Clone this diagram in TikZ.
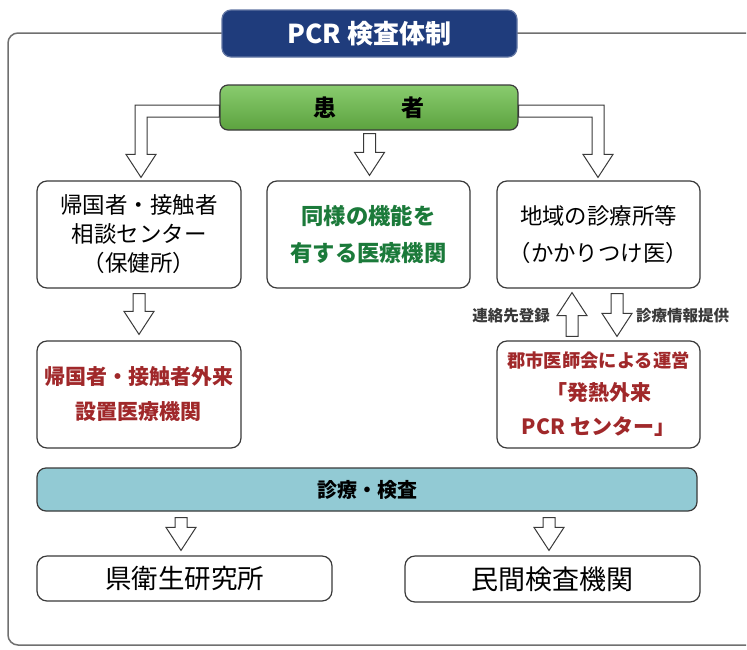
\documentclass[tikz,border=0pt]{standalone}
\usepackage{fontspec}
\newfontfamily\jp{Noto Sans CJK JP}
\usetikzlibrary{calc}
\pgfdeclarelayer{bg}
\pgfsetlayers{bg,main}
\definecolor{navy}{HTML}{1F3C7C}
\definecolor{kgreen}{HTML}{6CBF4A}
\definecolor{kteal}{HTML}{92CAD4}
\definecolor{tgreen}{HTML}{1B7A3A}
\definecolor{tred}{HTML}{A0282A}
\definecolor{edge}{HTML}{3A3A3A}
\definecolor{frame}{HTML}{707070}
\tikzset{
  box/.style={draw=edge, line width=1.2pt, rounded corners=10pt, fill=white, minimum width=#1, minimum height=107pt, inner sep=0pt, align=center},
  box/.default=204pt,
  wide/.style={draw=edge, line width=1.2pt, rounded corners=10pt, fill=white, minimum width=295pt, minimum height=45pt, inner sep=0pt, align=center},
  blockarr/.style={draw=edge, line width=1pt, fill=white, line join=miter},
  lbl/.style={inner sep=0pt, font=\jp\bfseries\fontsize{15.5}{18}\selectfont, text=edge},
}
\newcommand\arrdown[2]{\path[blockarr] let \p1=(#1), \p2=(#2) in
  (\x2-6pt,\y1) -- (\x2-6pt,\y2+23pt) -- (\x2-15pt,\y2+23pt) -- (\x2,\y2) -- (\x2+15pt,\y2+23pt) -- (\x2+6pt,\y2+23pt) -- (\x2+6pt,\y1) -- cycle;}
\newcommand\arrup[2]{\path[blockarr] let \p1=(#1), \p2=(#2) in
  (\x2-6pt,\y1) -- (\x2-6pt,\y2-23pt) -- (\x2-15pt,\y2-23pt) -- (\x2,\y2) -- (\x2+15pt,\y2-23pt) -- (\x2+6pt,\y2-23pt) -- (\x2+6pt,\y1) -- cycle;}
\newcommand\arrbendl[2]{\path[blockarr] let \p1=(#1), \p2=(#2) in
  (\x1,\y1+6pt) -- (\x2-6pt,\y1+6pt) -- (\x2-6pt,\y2+23pt) -- (\x2-15pt,\y2+23pt) -- (\x2,\y2) -- (\x2+15pt,\y2+23pt) -- (\x2+6pt,\y2+23pt) -- (\x2+6pt,\y1-6pt) -- (\x1,\y1-6pt) -- cycle;}
\newcommand\arrbendr[2]{\path[blockarr] let \p1=(#1), \p2=(#2) in
  (\x1,\y1+6pt) -- (\x2+6pt,\y1+6pt) -- (\x2+6pt,\y2+23pt) -- (\x2+15pt,\y2+23pt) -- (\x2,\y2) -- (\x2-15pt,\y2+23pt) -- (\x2-6pt,\y2+23pt) -- (\x2-6pt,\y1-6pt) -- (\x1,\y1-6pt) -- cycle;}
\begin{document}
\begin{tikzpicture}[x=1pt,y=-1pt]
\useasboundingbox (0,0) rectangle (747,649);
% background and frame
\begin{pgfonlayer}{bg}
\fill[white] (0,0) rectangle (747,649);
\draw[frame, line width=1.5pt] (746,33) -- (18,33) arc[start angle=90, end angle=180, radius=10pt] -- (8,635) arc[start angle=180, end angle=270, radius=10pt] -- (746,645);
\end{pgfonlayer}
\node[draw=navy!70!white, line width=1.2pt, fill=navy, rounded corners=9pt, minimum width=295pt, minimum height=47pt, inner sep=0pt,
  text=white, font=\jp\bfseries\fontsize{26}{30}\selectfont] (title) at (369.5,33.5) {PCR 検査体制};
% patient
\node[draw=edge, line width=1.2pt, top color=kgreen!80!white, bottom color=kgreen!85!black, rounded corners=8pt, minimum width=298pt, minimum height=45pt, inner sep=0pt,
  font=\jp\bfseries\fontsize{23}{26}\selectfont] (kanja) at (369,107.5) {患\hspace{66pt}者};
% row 1
\node[box, font=\jp\fontsize{22.5}{29}\selectfont] (sodan) at (139,234.5) {帰国者・接触者\\相談センター\\（保健所）};
\node[box=203pt, text=tgreen, font=\jp\bfseries\fontsize{22.3}{37}\selectfont] (douyou) at (368.5,234.5) {同様の機能を\\有する医療機関};
\node[box=203pt, font=\jp\fontsize{22.4}{37}\selectfont] (chiiki) at (598.5,234.5) {地域の診療所等\\（かかりつけ医）};
% row 2
\node[box, text=tred, font=\jp\bfseries\fontsize{21}{35}\selectfont] (gairai) at (139,394.5) {帰国者・接触者外来\\設置医療機関};
\node[box=203pt, text=tred, font=\jp\bfseries\fontsize{21}{34}\selectfont] (hatsu) at (598.5,394.5)
  {{\fontsize{18.3}{31}\selectfont 郡市医師会による運営}\\[-1pt]「発熱外来\\PCR センター」};
% band
\node[draw=edge, line width=1.2pt, fill=kteal, rounded corners=9pt, minimum width=660pt, minimum height=43pt, inner sep=0pt,
  font=\jp\bfseries\fontsize{20}{24}\selectfont] (kensa) at (367,489.5) {診療・検査};
% bottom
\node[wide, font=\jp\fontsize{26.5}{30}\selectfont] (kenei) at (184.5,578.5) {県衛生研究所};
\node[wide, minimum height=46pt, font=\jp\fontsize{27}{30}\selectfont] (minkan) at (552.5,579) {民間検査機関};
% labels
\node[lbl, anchor=east] (renraku) at (550,316) {連絡先登録};
\node[lbl, anchor=west] (teikyo) at (636,316) {診療情報提供};
% arrows
\begin{pgfonlayer}{bg}
\arrbendl{[yshift=-3.5pt]kanja.west}{[xshift=2pt,yshift=3pt]sodan.north}
\arrbendr{[yshift=-3.5pt]kanja.east}{[xshift=-0.5pt,yshift=3pt]chiiki.north}
\arrdown{[yshift=-3pt]kanja.south}{[xshift=1pt,yshift=5pt]douyou.north}
\arrdown{[yshift=-5pt]sodan.south}{[yshift=6pt]gairai.north}
\arrup{[yshift=4pt]hatsu.north}{[xshift=-26.5pt,yshift=-4pt]chiiki.south}
\arrdown{[yshift=-5pt]chiiki.south}{[xshift=18.5pt,yshift=4pt]hatsu.north}
\arrdown{[yshift=-6pt]kensa.south}{[xshift=-3.5pt,yshift=5pt]kenei.north}
\arrdown{[yshift=-6pt]kensa.south}{[xshift=-3.5pt,yshift=5pt]minkan.north}
\end{pgfonlayer}
\end{tikzpicture}
\end{document}
